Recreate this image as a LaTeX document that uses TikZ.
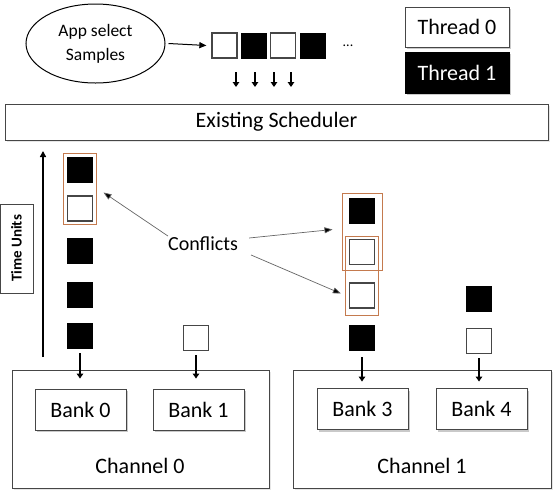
\documentclass[tikz,border=0pt]{standalone}
\usepackage{fontspec}
\setmainfont{Carlito}
\usetikzlibrary{shadows,arrows.meta,shapes.geometric}
\definecolor{orangebox}{RGB}{196,122,78}
\definecolor{edgegray}{RGB}{70,70,70}
\begin{document}
\begin{tikzpicture}[x=1pt,y=-1pt,
  wsq/.style={draw=edgegray,line width=1.3pt,fill=white,minimum size=25pt,inner sep=0pt},
  bsq/.style={draw=black,line width=0.8pt,fill=black,minimum size=25pt,inner sep=0pt},
  obox/.style={draw=orangebox,line width=1pt,inner sep=0pt},
  shbox/.style={draw=edgegray,line width=0.9pt,fill=white,inner sep=0pt,
    drop shadow={shadow xshift=2pt,shadow yshift=-2pt,opacity=0.35,fill=black!60}},
  plainbox/.style={draw=edgegray,line width=0.9pt,inner sep=0pt},
  lbl/.style={font=\fontsize{22}{26}\selectfont,inner sep=0pt},
  downarr/.style={line width=1.7pt,-{Triangle[width=6.5pt,length=5pt]}},
  thinarr/.style={draw=black!60,line width=0.7pt,-{Triangle[width=6pt,length=8pt,fill=black]}}
]
\useasboundingbox (0,0) rectangle (559,496);

% top
\node[draw,line width=1pt,ellipse,minimum width=139pt,minimum height=79pt,inner sep=0pt,align=center,
  font=\fontsize{17.5}{24}\selectfont] (app) at (95.5,43.5) {App select\\Samples};
\node[wsq] (q1) at (224.5,45.5) {};
\node[bsq] (q2) at (254,45.5) {};
\node[wsq] (q3) at (283,45.5) {};
\node[bsq] (q4) at (312.5,45.5) {};
\node[font=\fontsize{14}{16}\selectfont,inner sep=0pt] (dots) at (348,46) {...};
\draw[line width=1pt,-{Triangle[width=6pt,length=7pt]}] ([xshift=3pt]app.east) -- ([xshift=-5pt]q1.west);

\coordinate (d1s) at (236,72); \coordinate (d1e) at (236,87);
\coordinate (d2s) at (255,72); \coordinate (d2e) at (255,87);
\coordinate (d3s) at (274,72); \coordinate (d3e) at (274,87);
\coordinate (d4s) at (291,72); \coordinate (d4e) at (291,87);
\foreach \i in {1,2,3,4}{\draw[downarr] (d\i s) -- (d\i e);}

\node[shbox,minimum width=104pt,minimum height=40pt,lbl] (t0) at (457,27) {Thread 0};
\node[shbox,fill=black,draw=black,minimum width=104pt,minimum height=41pt,lbl,text=white] (t1) at (457,72.5) {Thread 1\hspace{4pt}};

\node[plainbox,minimum width=543pt,minimum height=36pt,lbl,
  drop shadow={shadow xshift=1.5pt,shadow yshift=-1.5pt,opacity=0.2,fill=black!50},fill=white] (sched) at (276.5,122) {Existing Scheduler};

% time axis
\node[draw=edgegray,line width=0.8pt,rotate=90,minimum width=89pt,minimum height=33pt,inner sep=0pt,
  font=\fontsize{15}{18}\selectfont\bfseries] (time) at (16.5,248.5) {Time Units};
\coordinate (axb) at (43,357);
\coordinate (axt) at (43,151);
\draw[line width=1.5pt,-{Triangle[width=6pt,length=6pt]}] (axb) -- (axt);

% left column (bank 0)
\node[bsq] (l1) at (80,169.5) {};
\node[wsq] (l2) at (80,208.5) {};
\node[bsq] (l3) at (80,250.5) {};
\node[bsq] (l4) at (80,294.5) {};
\node[bsq] (l5) at (80,335.5) {};
\node[obox,minimum width=33pt,minimum height=71pt] (ob1) at (79.5,188.5) {};
% bank 1
\node[wsq] (m1) at (196,338) {};
% bank 3
\node[bsq] (r1) at (362,210.5) {};
\node[wsq] (r2) at (362,252) {};
\node[wsq] (r3) at (362,295.5) {};
\node[bsq] (r4) at (362,337.5) {};
\node[obox,minimum width=40pt,minimum height=77pt] (ob2) at (362,231.5) {};
\node[obox,minimum width=33pt,minimum height=79pt] (ob3) at (361.5,275.5) {};
% bank 4
\node[bsq] (s1) at (479,299) {};
\node[wsq] (s2) at (479,341) {};

% conflicts
\node[font=\fontsize{20}{24}\selectfont,inner sep=1pt] (conf) at (203,244) {Conflicts};
\draw[thinarr] ([xshift=1pt,yshift=8pt]conf.west) -- ([xshift=7pt,yshift=-4pt]ob1.east);
\draw[thinarr] ([xshift=10pt,yshift=6pt]conf.east) -- ([xshift=-9pt,yshift=2pt]ob2.west);
\draw[thinarr] ([xshift=12pt,yshift=-11pt]conf.east) -- ([xshift=-8pt,yshift=2pt]r3.west);

% channels
\node[plainbox,fill=white,minimum width=257pt,minimum height=118pt,
  drop shadow={shadow xshift=1.5pt,shadow yshift=-1.5pt,opacity=0.2,fill=black!50}] (ch0) at (140.5,429) {};
\node[plainbox,fill=white,minimum width=258pt,minimum height=118pt,
  drop shadow={shadow xshift=1.5pt,shadow yshift=-1.5pt,opacity=0.2,fill=black!50}] (ch1) at (422,429) {};
\node[lbl] (ch0l) at (140,466) {Channel 0};
\node[lbl] (ch1l) at (422,466) {Channel 1};
\node[shbox,lbl,minimum width=91pt,minimum height=41pt] (b0) at (80.5,409.5) {Bank 0};
\node[shbox,lbl,minimum width=91pt,minimum height=41pt] (b1) at (198.5,409.5) {Bank 1};
\node[shbox,lbl,minimum width=91pt,minimum height=41pt] (b3) at (362.5,409) {Bank 3};
\node[shbox,lbl,minimum width=91pt,minimum height=41pt] (b4) at (481.5,409) {Bank 4};

\draw[downarr] ([yshift=-5pt]l5.south) -- ([yshift=-9pt]ch0.north -| l5.south);
\draw[downarr] ([yshift=-4pt]m1.south) -- ([yshift=-9pt]ch0.north -| m1.south);
\draw[downarr] ([yshift=-7pt]r4.south) -- ([yshift=-12pt]ch1.north -| r4.south);
\draw[downarr] ([yshift=-4pt]s2.south) -- ([yshift=-12pt]ch1.north -| s2.south);
\end{tikzpicture}
\end{document}
